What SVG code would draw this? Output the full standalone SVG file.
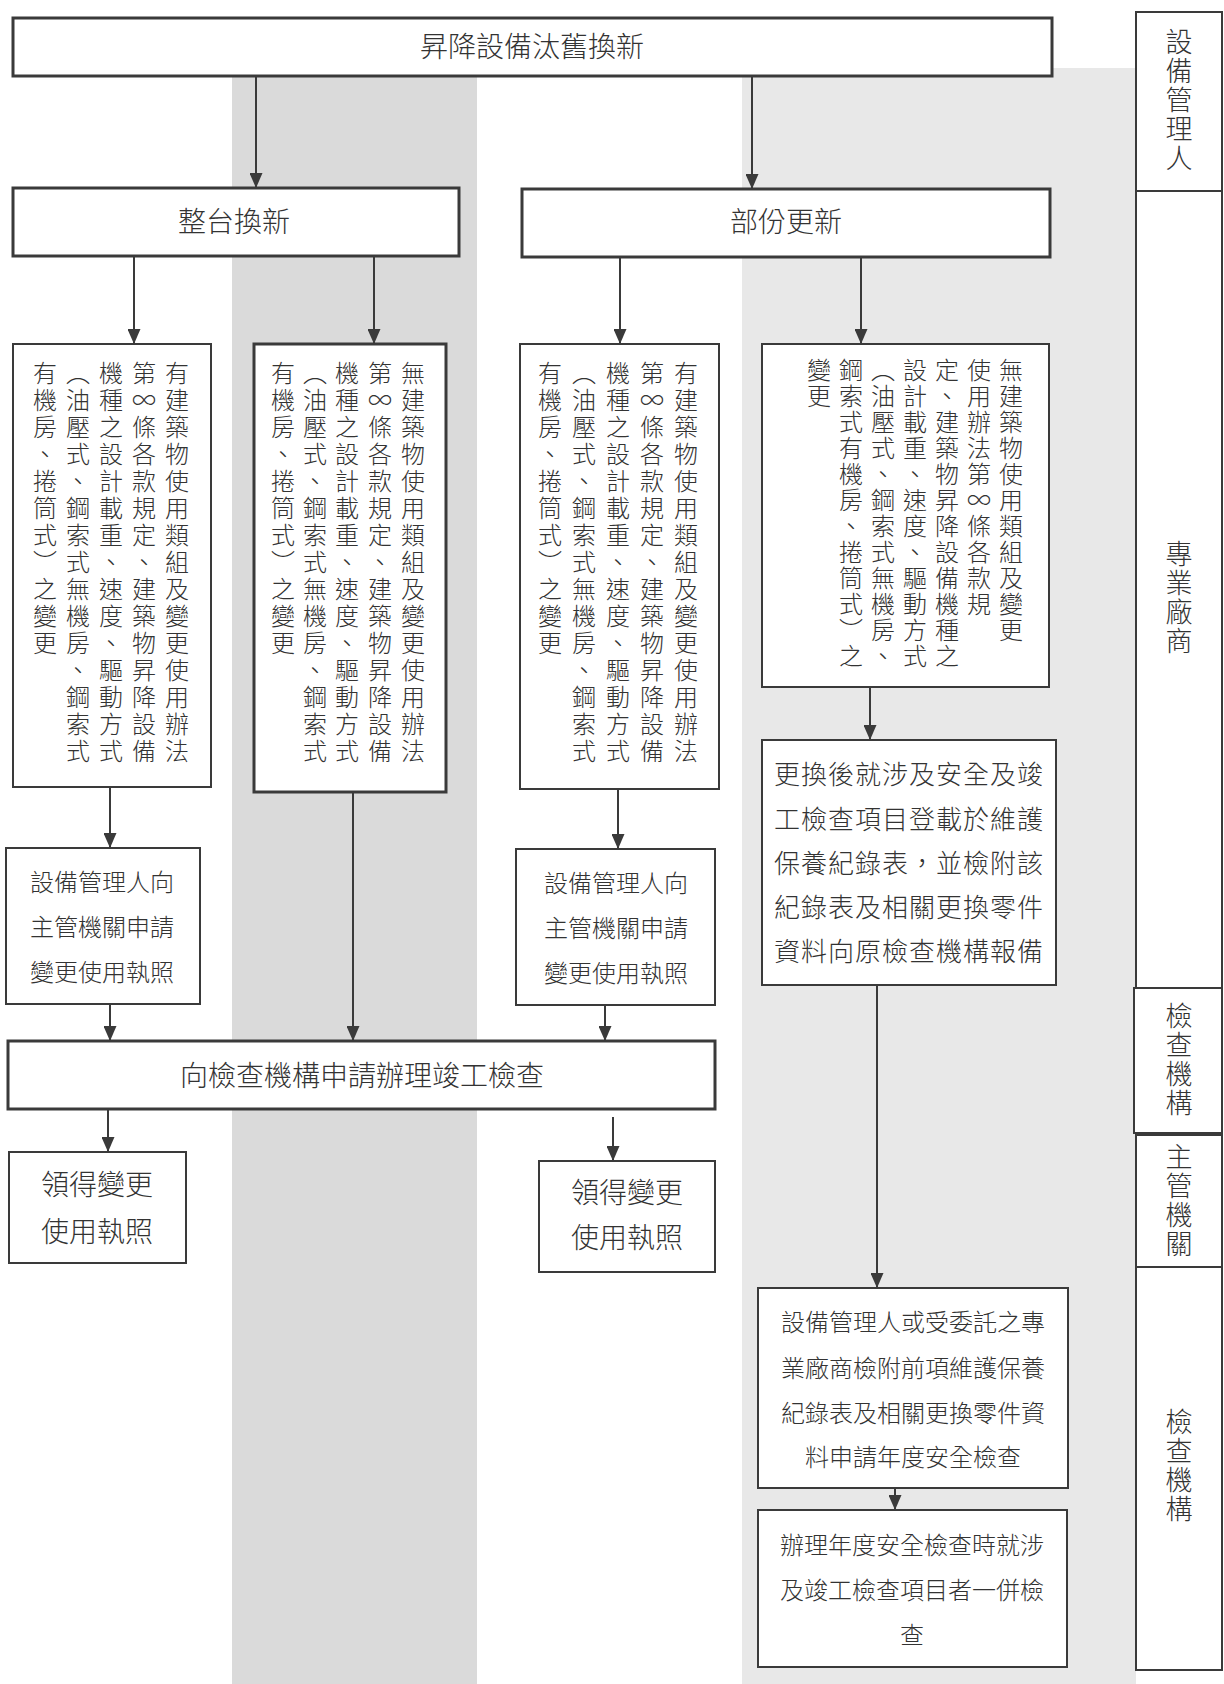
<svg xmlns="http://www.w3.org/2000/svg" width="1224" height="1684" viewBox="0 0 1224 1684">
<style>
.box{fill:#fff;stroke:#3a3a3a;stroke-width:2}
.thick{stroke-width:3}
.t{font-family:"Noto Sans CJK TC","Noto Sans CJK JP",sans-serif;fill:#333;font-weight:300}
.h28{font-size:28px;text-anchor:middle}
.h26{font-size:26px;text-anchor:middle;letter-spacing:1px}
.h24{font-size:24px;text-anchor:middle}
.v{font-size:24px;writing-mode:vertical-rl;text-orientation:upright;letter-spacing:3px}
.vd{font-size:24px;writing-mode:vertical-rl;text-orientation:upright;letter-spacing:2px}
.lane{font-size:27px;writing-mode:vertical-rl;text-orientation:upright;letter-spacing:2px}
.c{stroke:#3a3a3a;stroke-width:2;fill:none;marker-end:url(#ah)}
</style>
<defs>
<marker id="ah" markerUnits="userSpaceOnUse" markerWidth="15" markerHeight="13" viewBox="0 0 15 13" refX="15" refY="6.5" orient="auto">
<path d="M0,0 L15,6.5 L0,13 Z" fill="#3a3a3a"/>
</marker>
</defs>
<rect width="1224" height="1684" fill="#fff"/>
<g id="bands">
<rect x="232" y="77" width="245" height="1607" fill="#dadada"/>
<rect x="742" y="68" width="394" height="1616" fill="#e8e8e8"/>
</g>
<g id="lanes">
<g id="lane-manager"><rect class="box" x="1136" y="12" width="86" height="179"/><text class="t lane" x="1179" y="28">設備管理人</text></g>
<g id="lane-vendor"><rect class="box" x="1136" y="191" width="86" height="797"/><text class="t lane" x="1179" y="540">專業廠商</text></g>
<g id="lane-inspect1"><rect class="box" x="1134" y="988" width="88" height="145"/><text class="t lane" x="1179" y="1002">檢查機構</text></g>
<g id="lane-authority"><rect class="box" x="1136" y="1135" width="86" height="132"/><text class="t lane" x="1179" y="1143">主管機關</text></g>
<g id="lane-inspect2"><rect class="box" x="1136" y="1267" width="86" height="403"/><text class="t lane" x="1179" y="1408">檢查機構</text></g>
</g>
<g id="connectors">
<line class="c" x1="256" y1="76" x2="256" y2="188"/>
<line class="c" x1="752" y1="76" x2="752" y2="189"/>
<line class="c" x1="134" y1="256" x2="134" y2="344"/>
<line class="c" x1="374" y1="256" x2="374" y2="344"/>
<line class="c" x1="620" y1="257" x2="620" y2="344"/>
<line class="c" x1="861" y1="257" x2="861" y2="344"/>
<line class="c" x1="110" y1="787" x2="110" y2="848"/>
<line class="c" x1="353" y1="792" x2="353" y2="1041"/>
<line class="c" x1="618" y1="789" x2="618" y2="849"/>
<line class="c" x1="870" y1="687" x2="870" y2="740"/>
<line class="c" x1="110" y1="1004" x2="110" y2="1041"/>
<line class="c" x1="605" y1="1005" x2="605" y2="1041"/>
<line class="c" x1="108" y1="1109" x2="108" y2="1152"/>
<line class="c" x1="613" y1="1117" x2="613" y2="1161"/>
<line class="c" x1="877" y1="985" x2="877" y2="1288"/>
<line class="c" x1="895" y1="1488" x2="895" y2="1510"/>
</g>
<g id="n-top"><rect class="box thick" x="13" y="18" width="1039" height="58"/><text class="t h28" x="532" y="57">昇降設備汰舊換新</text></g>
<g id="n-whole"><rect class="box thick" x="13" y="188" width="446" height="68"/><text class="t h28" x="234" y="232">整台換新</text></g>
<g id="n-part"><rect class="box thick" x="522" y="189" width="528" height="68"/><text class="t h28" x="786" y="232">部份更新</text></g>
<g id="n-a"><rect class="box" x="13" y="344" width="198" height="443"/>
<text class="t v" x="177" y="361">有建築物使用類組及變更使用辦法</text>
<text class="t v" x="144" y="361">第∞條各款規定、建築物昇降設備</text>
<text class="t v" x="111" y="361">機種之設計載重、速度、驅動方式</text>
<text class="t v" x="78" y="361">（油壓式、鋼索式無機房、鋼索式</text>
<text class="t v" x="45" y="361">有機房、捲筒式）之變更</text>
</g>
<g id="n-b"><rect class="box thick" x="254" y="344" width="192" height="448"/>
<text class="t v" x="413" y="361">無建築物使用類組及變更使用辦法</text>
<text class="t v" x="380" y="361">第∞條各款規定、建築物昇降設備</text>
<text class="t v" x="347" y="361">機種之設計載重、速度、驅動方式</text>
<text class="t v" x="315" y="361">（油壓式、鋼索式無機房、鋼索式</text>
<text class="t v" x="283" y="361">有機房、捲筒式）之變更</text>
</g>
<g id="n-c"><rect class="box" x="520" y="344" width="199" height="445"/>
<text class="t v" x="686" y="361">有建築物使用類組及變更使用辦法</text>
<text class="t v" x="652" y="361">第∞條各款規定、建築物昇降設備</text>
<text class="t v" x="618" y="361">機種之設計載重、速度、驅動方式</text>
<text class="t v" x="584" y="361">（油壓式、鋼索式無機房、鋼索式</text>
<text class="t v" x="550" y="361">有機房、捲筒式）之變更</text>
</g>
<g id="n-d"><rect class="box" x="762" y="344" width="287" height="343"/>
<text class="t vd" x="1011" y="358">無建築物使用類組及變更</text>
<text class="t vd" x="979" y="358">使用辦法第∞條各款規</text>
<text class="t vd" x="947" y="358">定、建築物昇降設備機種之</text>
<text class="t vd" x="915" y="358">設計載重、速度、驅動方式</text>
<text class="t vd" x="883" y="358">（油壓式、鋼索式無機房、</text>
<text class="t vd" x="851" y="358">鋼索式有機房、捲筒式）之</text>
<text class="t vd" x="819" y="358">變更</text>
</g>
<g id="n-report"><rect class="box" x="762" y="740" width="294" height="245"/>
<text class="t h26" x="909" y="784">更換後就涉及安全及竣</text>
<text class="t h26" x="909" y="829">工檢查項目登載於維護</text>
<text class="t h26" x="909" y="873">保養紀錄表，並檢附該</text>
<text class="t h26" x="909" y="917">紀錄表及相關更換零件</text>
<text class="t h26" x="909" y="961">資料向原檢查機構報備</text>
</g>
<g id="n-apply-left"><rect class="box" x="6" y="848" width="194" height="156"/>
<text class="t h24" x="102" y="891">設備管理人向</text>
<text class="t h24" x="102" y="936">主管機關申請</text>
<text class="t h24" x="102" y="981">變更使用執照</text>
</g>
<g id="n-apply-right"><rect class="box" x="516" y="849" width="199" height="156"/>
<text class="t h24" x="616" y="892">設備管理人向</text>
<text class="t h24" x="616" y="937">主管機關申請</text>
<text class="t h24" x="616" y="982">變更使用執照</text>
</g>
<g id="n-completion"><rect class="box thick" x="8" y="1041" width="707" height="68"/><text class="t h28" x="362" y="1086">向檢查機構申請辦理竣工檢查</text></g>
<g id="n-license-left"><rect class="box" x="9" y="1152" width="177" height="111"/>
<text class="t h28" x="97" y="1195">領得變更</text>
<text class="t h28" x="97" y="1242">使用執照</text>
</g>
<g id="n-license-right"><rect class="box" x="539" y="1161" width="176" height="111"/>
<text class="t h28" x="627" y="1203">領得變更</text>
<text class="t h28" x="627" y="1248">使用執照</text>
</g>
<g id="n-annual-apply"><rect class="box" x="758" y="1288" width="310" height="200"/>
<text class="t h24" x="913" y="1331">設備管理人或受委託之專</text>
<text class="t h24" x="913" y="1377">業廠商檢附前項維護保養</text>
<text class="t h24" x="913" y="1422">紀錄表及相關更換零件資</text>
<text class="t h24" x="913" y="1466">料申請年度安全檢查</text>
</g>
<g id="n-annual-check"><rect class="box" x="758" y="1510" width="309" height="157"/>
<text class="t h24" x="912" y="1554">辦理年度安全檢查時就涉</text>
<text class="t h24" x="912" y="1599">及竣工檢查項目者一併檢</text>
<text class="t h24" x="912" y="1644">查</text>
</g>
</svg>
